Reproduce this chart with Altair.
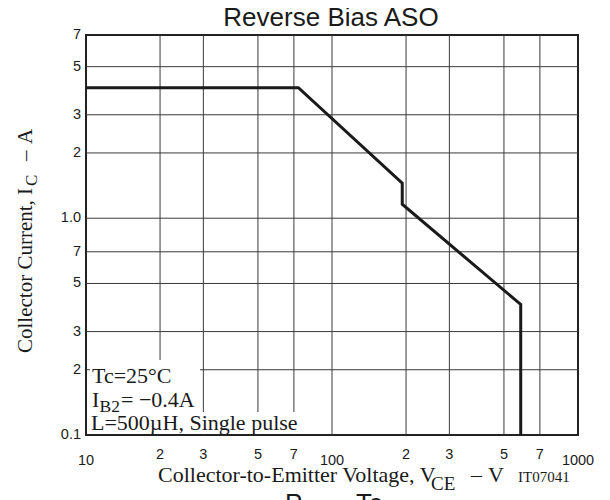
import altair as alt
import pandas as pd

# ---- data ----
v_ce = [10, 73, 193, 193, 585, 585]          # Collector-to-emitter voltage (V)
i_c = [4.0, 4.0, 1.45, 1.16, 0.40, 0.1]      # Collector current (A)

x_ticks = [10, 20, 30, 50, 70, 100, 200, 300, 500, 700, 1000]
x_tick_labels = ["10", "2", "3", "5", "7", "100", "2", "3", "5", "7", "1000"]
x_tick_major = [True, False, False, False, False, True, False, False, False, False, True]
y_ticks = [0.1, 0.2, 0.3, 0.5, 0.7, 1.0, 2, 3, 5, 7]
y_tick_labels = ["0.1", "2", "3", "5", "7", "1.0", "2", "3", "5", "7"]

W, H = 492, 400
SANS = "Liberation Sans"
SERIF = "Liberation Serif"
INK = "#1a1a1a"
GRID = "#3a3a3a"

xs = alt.Scale(type="log", domain=[10, 1000], nice=False)
ys = alt.Scale(type="log", domain=[0.1, 7], nice=False)

curve_df = pd.DataFrame({"v": v_ce, "i": i_c, "idx": list(range(len(v_ce)))})
xt_df = pd.DataFrame({"v": x_ticks, "lab": x_tick_labels, "major": x_tick_major})
yt_df = pd.DataFrame({"v": y_ticks, "lab": y_tick_labels})
xg_df = pd.DataFrame({"v": x_ticks[1:-1]})
yg_df = pd.DataFrame({"v": y_ticks[1:-1]})
one = pd.DataFrame({"a": [0]})

xgrid = alt.Chart(xg_df).mark_rule(color=GRID, strokeWidth=1).encode(
    x=alt.X("v:Q", scale=xs, axis=None))
ygrid = alt.Chart(yg_df).mark_rule(color=GRID, strokeWidth=1).encode(
    y=alt.Y("v:Q", scale=ys, axis=None))

curve = alt.Chart(curve_df).mark_line(color=INK, strokeWidth=3, strokeJoin="miter").encode(
    x=alt.X("v:Q", scale=xs, axis=None),
    y=alt.Y("i:Q", scale=ys, axis=None),
    order="idx:Q",
)

xlab_major = alt.Chart(xt_df).transform_filter("datum.major").mark_text(
    font=SANS, fontSize=14.5, color=INK, align="center", baseline="alphabetic"
).encode(x=alt.X("v:Q", scale=xs, axis=None), y=alt.value(430), text="lab:N")

xlab_minor = alt.Chart(xt_df).transform_filter("!datum.major").mark_text(
    font=SANS, fontSize=14.5, color=INK, align="center", baseline="alphabetic"
).encode(x=alt.X("v:Q", scale=xs, axis=None), y=alt.value(424), text="lab:N")

ylab = alt.Chart(yt_df).mark_text(
    font=SANS, fontSize=14.5, color=INK, align="right", baseline="middle"
).encode(y=alt.Y("v:Q", scale=ys, axis=None), x=alt.value(-5), text="lab:N")


def box(x1, x2, y1, y2):
    return alt.Chart(one).mark_rect(color="white").encode(
        x=alt.value(x1), x2=alt.value(x2), y=alt.value(y1), y2=alt.value(y2))


def txt(s, x, y, size=22, font=SERIF, align="left", angle=0, baseline="alphabetic"):
    return alt.Chart(one).mark_text(
        text=s, font=font, fontSize=size, color=INK, align=align, angle=angle, baseline=baseline
    ).encode(x=alt.value(x), y=alt.value(y))


layers = [
    xgrid, ygrid,
    box(4, 114, 325, 377),
    box(4, 216, 377, 399),
    curve,
    xlab_major, xlab_minor, ylab,
    # annotation
    txt("Tc=25°C", 6, 348),
    txt("I", 6, 372),
    txt("B2", 13.5, 377, size=17.5),
    txt("= \u22120.4A", 35, 372),
    txt("L=500\u00b5H, Single pulse", 5, 395),
    # x title
    txt("Collector-to-Emitter Voltage, V", 72, 447, size=22),
    txt("CE", 345, 455, size=19),
    txt("\u2013", 385, 447, size=22),
    txt("V", 402, 447, size=22),
    txt("IT07041", 432, 447, size=15),
    # y title
    txt("Collector Current, I", -54, 318, size=21, angle=270),
    txt("C", -49, 151, size=17, angle=270),
    txt("\u2013", -54, 126, size=21, angle=270),
    txt("A", -54, 109, size=21, angle=270),
    # chart title
    txt("Reverse Bias ASO", 245, -9, size=26, font=SANS, align="center"),
    # next chart's title, cut by the page edge
    txt("P", 199, 477, size=26, font=SANS),
    txt("Tc", 270, 477, size=26, font=SANS),
]

chart = alt.layer(*layers).properties(
    width=W, height=H,
    padding={"left": 78, "top": 27, "right": 24, "bottom": 70},
    autosize=alt.AutoSizeParams(type="none"),
).configure_view(
    stroke="#222", strokeWidth=2
)

chart.save("out.html", embed_options={"renderer": "svg", "actions": False})
